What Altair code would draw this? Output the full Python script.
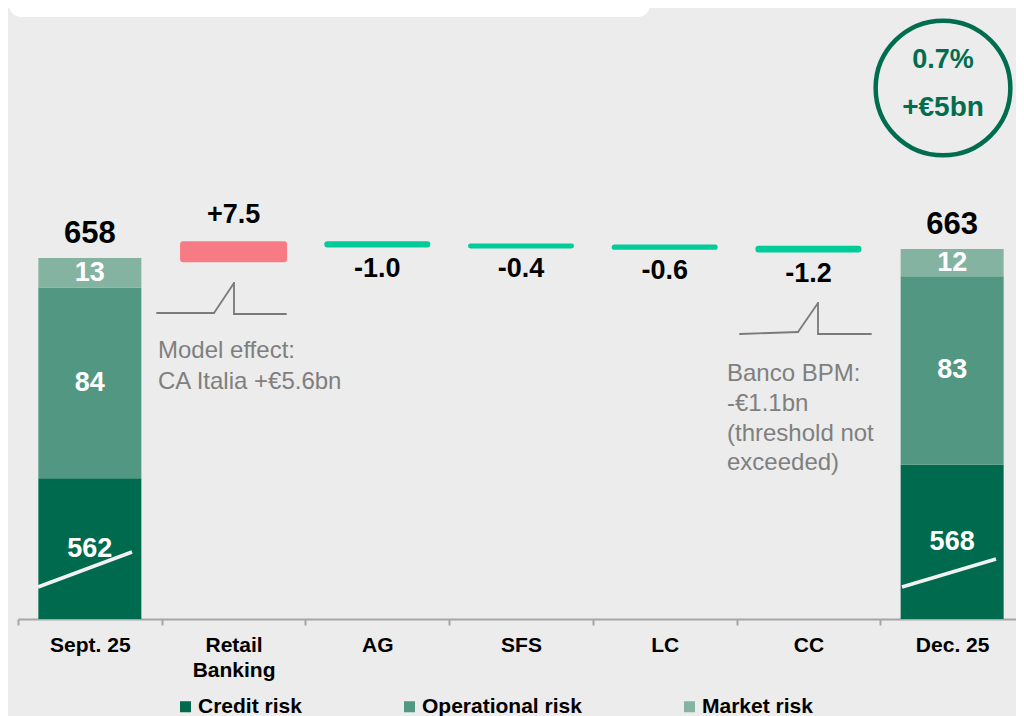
import altair as alt
import pandas as pd

# ---------------- data ----------------
categories = ["Sept. 25", "Retail Banking", "AG", "SFS", "LC", "CC", "Dec. 25"]
segments = ["Credit risk", "Operational risk", "Market risk"]
segment_colors = ["#006a4e", "#529781", "#84b3a2"]
sept_values = [562, 84, 13]
dec_values = [568, 83, 12]
sept_total = 658
dec_total = 663
delta_categories = ["Retail Banking", "AG", "SFS", "LC", "CC"]
delta_values = [7.5, -1.0, -0.4, -0.6, -1.2]
delta_labels = ["+7.5", "-1.0", "-0.4", "-0.6", "-1.2"]

BREAK = 500          # y-axis is broken: only the part above this level is drawn
W, H = 998, 611       # visible plot area (svg must fit in 1008 px)
X_RANGE = 1006        # band range runs to the window edge, as in the reference
PX0, PY0 = 18, 8      # page position of the plot origin
PX_PER_UNIT = 2.27
Y_TOP = H / PX_PER_UNIT

FONT = "Liberation Sans"
BG = "#ececec"


def disp(v):
    return max(v - BREAK, 0)


# stacked bars
stack_rows = []
for cat, vals in [("Sept. 25", sept_values), ("Dec. 25", dec_values)]:
    base = 0
    for seg, v in zip(segments, vals):
        lo, hi = disp(base), disp(base + v)
        stack_rows.append({"cat": cat, "seg": seg, "value": v, "lo": lo, "hi": hi,
                           "mid": (lo + hi) / 2, "label": str(v)})
        base += v
stack_df = pd.DataFrame(stack_rows)

total_df = pd.DataFrame({
    "cat": ["Sept. 25", "Dec. 25"],
    "top": [disp(sum(sept_values)), disp(sum(dec_values))],
    "label": [str(sept_total), str(dec_total)],
})

# waterfall deltas
d_rows = []
level = sept_total
for cat, v, lab in zip(delta_categories, delta_values, delta_labels):
    start, end = level, level + v
    d_rows.append({"cat": cat, "start": disp(start), "end": disp(end),
                   "hi": disp(max(start, end)), "lo": disp(min(start, end)),
                   "label": lab, "pos": v > 0})
    level = end
delta_df = pd.DataFrame(d_rows)

# ---------------- scales ----------------
x_scale = alt.Scale(domain=categories, paddingInner=0, paddingOuter=0, range=[0, X_RANGE])
y_scale = alt.Scale(domain=[0, Y_TOP], nice=False, zero=False)
color_scale = alt.Scale(domain=segments, range=segment_colors)

x_axis = alt.Axis(
    title=None, labelAngle=0, labelFontSize=21, labelFontWeight="bold",
    labelColor="black", labelFont=FONT, domainColor="#a6a6a6", domainWidth=2,
    tickColor="#a6a6a6", tickWidth=2, tickSize=6, tickBand="extent",
    labelPadding=9, labelLineHeight=25,
    labelExpr="datum.value == 'Retail Banking' ? ['Retail', 'Banking'] : datum.label",
)

X = alt.X("cat:N", scale=x_scale, axis=x_axis, sort=categories)

stack = alt.Chart(stack_df).mark_bar(size=103).encode(
    x=X,
    y=alt.Y("lo:Q", scale=y_scale, axis=None),
    y2="hi:Q",
    color=alt.Color("seg:N", scale=color_scale, sort=segments,
                    legend=alt.Legend(title=None, orient="none", direction="horizontal",
                                      legendX=157, legendY=688, symbolType="square",
                                      symbolSize=121, symbolStrokeWidth=0,
                                      labelFontSize=21, labelFontWeight="bold",
                                      labelFont=FONT, labelColor="black",
                                      columnPadding=97, labelOffset=2, padding=0,
                                      columns=3)),
)

seg_text = alt.Chart(stack_df).mark_text(
    font=FONT, fontSize=27, fontWeight="bold", color="white", baseline="middle"
).encode(x=X, y=alt.Y("mid:Q", scale=y_scale, axis=None), text="label:N")

total_text = alt.Chart(total_df).mark_text(
    font=FONT, fontSize=31, fontWeight="bold", color="black", baseline="alphabetic", dy=-15
).encode(x=X, y=alt.Y("top:Q", scale=y_scale, axis=None), text="label:N")

pos_bars = alt.Chart(delta_df).transform_filter("datum.pos").mark_bar(
    size=103, color="#f67b84", stroke="#f67b84", strokeWidth=4, cornerRadius=1
).encode(x=X, y=alt.Y("lo:Q", scale=y_scale, axis=None), y2="hi:Q")

neg_bars = alt.Chart(delta_df).transform_filter("!datum.pos").mark_bar(
    size=102, color="#00cc99", stroke="#00cc99", strokeWidth=4, cornerRadius=1,
    strokeJoin="round"
).encode(x=X, y=alt.Y("lo:Q", scale=y_scale, axis=None), y2="hi:Q")

pos_text = alt.Chart(delta_df).transform_filter("datum.pos").mark_text(
    font=FONT, fontSize=27, fontWeight="bold", color="black", baseline="alphabetic", dy=-20
).encode(x=X, y=alt.Y("hi:Q", scale=y_scale, axis=None), text="label:N")

neg_text = alt.Chart(delta_df).transform_filter("!datum.pos").mark_text(
    font=FONT, fontSize=27, fontWeight="bold", color="black", baseline="alphabetic", dy=31
).encode(x=X, y=alt.Y("lo:Q", scale=y_scale, axis=None), text="label:N")

# ---------------- decorations (page coordinates converted to plot) ----------------
one = alt.Data(values=[{}])


def seg_rule(p, q, color, width, cap="butt"):
    return alt.Chart(one).mark_rule(color=color, strokeWidth=width, strokeCap=cap).encode(
        x=alt.value(p[0] - PX0), x2=alt.value(q[0] - PX0),
        y=alt.value(p[1] - PY0), y2=alt.value(q[1] - PY0))


def polyline(points, color, width):
    return [seg_rule(points[i], points[i + 1], color, width, "round")
            for i in range(len(points) - 1)]


def label(text, px, py, size, color, weight="normal", align="left"):
    return alt.Chart(one).mark_text(
        text=text, font=FONT, fontSize=size, fontWeight=weight, color=color,
        align=align, baseline="middle"
    ).encode(x=alt.value(px - PX0), y=alt.value(py - PY0))


deco = []
# white title box (cut off at top)
deco.append(alt.Chart(one).mark_rect(color="white", cornerRadius=12).encode(
    x=alt.value(9 - PX0), x2=alt.value(650 - PX0), y=alt.value(-40), y2=alt.value(17 - PY0)))
# axis-break slashes
deco.append(seg_rule((38, 587), (132, 552), "#f2f2f2", 3.5))
deco.append(seg_rule((902, 587), (996, 559), "#f2f2f2", 3.5))
# step icons
deco += polyline([(157, 313), (214, 313), (234, 283), (234, 314), (286, 314)], "#7a7a7a", 1.8)
deco += polyline([(740, 334), (798, 332), (818, 303), (818, 334), (871, 334)], "#7a7a7a", 1.8)
# annotation texts
grey = "#7f7f7f"
ann = 24
deco.append(label("Model effect:", 158, 351, ann, grey))
deco.append(label("CA Italia +€5.6bn", 158, 382, ann, grey))
deco.append(label("Banco BPM:", 727, 374, ann, grey))
deco.append(label("-€1.1bn", 727, 404, ann, grey))
deco.append(label("(threshold not", 727, 434, ann, grey))
deco.append(label("exceeded)", 727, 463, ann, grey))
# circle badge
deco.append(alt.Chart(one).mark_point(shape="circle", filled=False, color="#006e4e",
                                      strokeWidth=4.5, size=3.14159 * 76 * 76, opacity=1).encode(
    x=alt.value(943 - PX0), y=alt.value(88 - PY0)))
deco.append(label("0.7%", 943, 60, 27, "#006e4e", "bold", "center"))
deco.append(label("+€5bn", 943, 108, 28, "#006e4e", "bold", "center"))

chart = alt.layer(
    *deco[:1], stack, seg_text, total_text, pos_bars, neg_bars, pos_text, neg_text, *deco[1:]
).properties(
    width=W, height=H, background=BG, autosize="none",
    padding={"left": 10, "top": 0, "right": 0, "bottom": 97},
).configure_view(stroke=None)

chart.save("out.html", embed_options={"renderer": "svg", "actions": False})
